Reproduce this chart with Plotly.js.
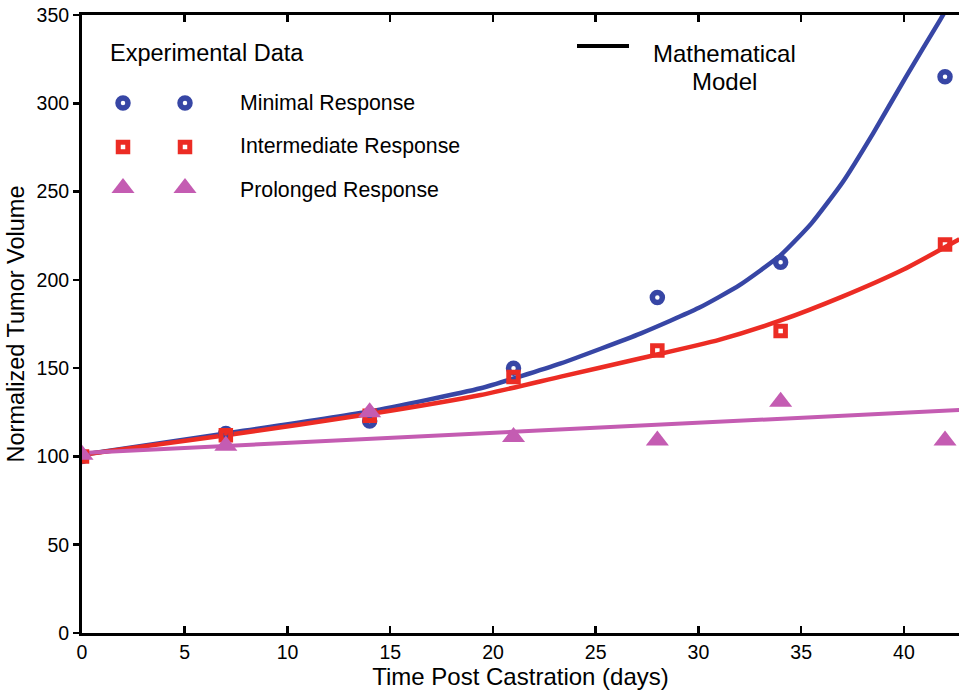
<!DOCTYPE html>
<html>
<head>
<meta charset="utf-8">
<script src="https://cdn.plot.ly/plotly-3.0.1.min.js"></script>
<style>html,body{margin:0;padding:0;background:#fff;}</style>
</head>
<body>
<div id="chart" style="width:959px;height:695px;"></div>
<script>
// Experimental data
const days = [0, 7, 14, 21, 28, 34, 42];
const minimalData = [100, 113, 120, 150, 190, 210, 315];
const intermediateData = [100, 112, 123, 145, 160, 171, 220];
const prolongedData = [101, 106, 125, 111, 109, 131, 109];

// Mathematical model curves
const minimalModelX = [0, 7, 14, 19.4, 23.3, 27.2, 30, 32, 34, 35.5, 37, 38.5, 40.1, 41.75, 42.4];
const minimalModelY = [101, 113, 125.5, 138.6, 152.7, 169.7, 184, 197, 214, 232, 255, 283, 315, 347, 360];
const intermediateModelX = [0, 7, 14, 19.4, 23.3, 27.2, 31, 34, 37, 40, 42.7];
const intermediateModelY = [101, 112, 124, 134.8, 145.2, 155.6, 166, 177, 190.5, 206, 223];
const prolongedModelX = [0, 14, 28, 42.7];
const prolongedModelY = [102, 110, 118, 126.3];

const blue = 'rgb(55,70,165)';
const red = 'rgb(236,44,36)';
const pink = 'rgb(196,92,178)';
const font = 'Liberation Sans, Arial, Helvetica, sans-serif';

const circleMarker = {symbol: 'circle-open', size: 10, color: blue, line: {width: 5.5, color: blue}};
const squareMarker = {symbol: 'square-open', size: 9.5, color: red, line: {width: 5, color: red}};
const triMarker = {symbol: 'triangle-up', size: 20, color: pink};

const traces = [
  {x: minimalModelX, y: minimalModelY, mode: 'lines', line: {color: blue, width: 4.5, shape: 'spline', smoothing: 0.5}, hoverinfo: 'skip'},
  {x: intermediateModelX, y: intermediateModelY, mode: 'lines', line: {color: red, width: 4.5, shape: 'spline', smoothing: 0.6}, hoverinfo: 'skip'},
  {x: prolongedModelX, y: prolongedModelY, mode: 'lines', line: {color: pink, width: 4}, hoverinfo: 'skip'},
  {x: days, y: minimalData, mode: 'markers', marker: circleMarker},
  {x: days, y: intermediateData, mode: 'markers', marker: squareMarker},
  {x: days, y: prolongedData, mode: 'markers', marker: triMarker},
  // legend symbols (overlay axis in pixel units)
  {x: [123, 185], y: [103, 103], xaxis: 'x2', yaxis: 'y2', mode: 'markers', marker: circleMarker, hoverinfo: 'skip'},
  {x: [123, 185], y: [147, 147], xaxis: 'x2', yaxis: 'y2', mode: 'markers', marker: squareMarker, hoverinfo: 'skip'},
  {x: [123, 185], y: [188, 188], xaxis: 'x2', yaxis: 'y2', mode: 'markers', marker: triMarker, hoverinfo: 'skip'}
];

function ann(text, px, py, size, xanchor) {
  return {text: text, xref: 'x2', yref: 'y2', x: px, y: py, xanchor: xanchor || 'left', yanchor: 'middle',
          showarrow: false, font: {family: font, size: size, color: '#000'}};
}

const layout = {
  width: 959, height: 695,
  margin: {l: 82, r: 0, t: 15, b: 62},
  paper_bgcolor: '#fff', plot_bgcolor: '#fff',
  showlegend: false,
  font: {family: font, color: '#000'},
  xaxis: {
    range: [0, 42.68], tickvals: [0, 5, 10, 15, 20, 25, 30, 35, 40],
    ticks: 'inside', ticklen: 7, tickwidth: 2.5, tickcolor: '#000',
    showline: true, linewidth: 3, linecolor: '#000', mirror: 'ticks',
    showgrid: false, zeroline: false,
    tickfont: {family: font, size: 19.5, color: '#000'},
    title: {text: 'Time Post Castration (days)', font: {family: font, size: 24, color: '#000'}, standoff: 4}
  },
  yaxis: {
    range: [0, 350], tickvals: [0, 50, 100, 150, 200, 250, 300, 350],
    ticks: 'outside', ticklen: 6, tickwidth: 2.5, tickcolor: '#000',
    showline: true, linewidth: 3, linecolor: '#000',
    showgrid: false, zeroline: false,
    tickfont: {family: font, size: 19.5, color: '#000'},
    title: {text: 'Normalized Tumor Volume', font: {family: font, size: 23.5, color: '#000'}, standoff: 6}
  },
  xaxis2: {overlaying: 'x', range: [82, 959], visible: false, fixedrange: true},
  yaxis2: {overlaying: 'y', range: [633, 15], visible: false, fixedrange: true},
  shapes: [
    {type: 'line', xref: 'x2', yref: 'y2', x0: 577, x1: 629, y0: 46, y1: 46, line: {color: '#000', width: 4}}
  ],
  annotations: [
    ann('Experimental Data', 108, 53, 23.5),
    ann('Minimal Response', 238, 103, 21.3),
    ann('Intermediate Response', 238, 146, 21.3),
    ann('Prolonged Response', 238, 190, 21.3),
    ann('Mathematical', 724, 53, 24, 'center'),
    ann('Model', 724, 81, 24, 'center')
  ]
};

Plotly.newPlot('chart', traces, layout, {displayModeBar: false, staticPlot: true});
</script>
</body>
</html>
